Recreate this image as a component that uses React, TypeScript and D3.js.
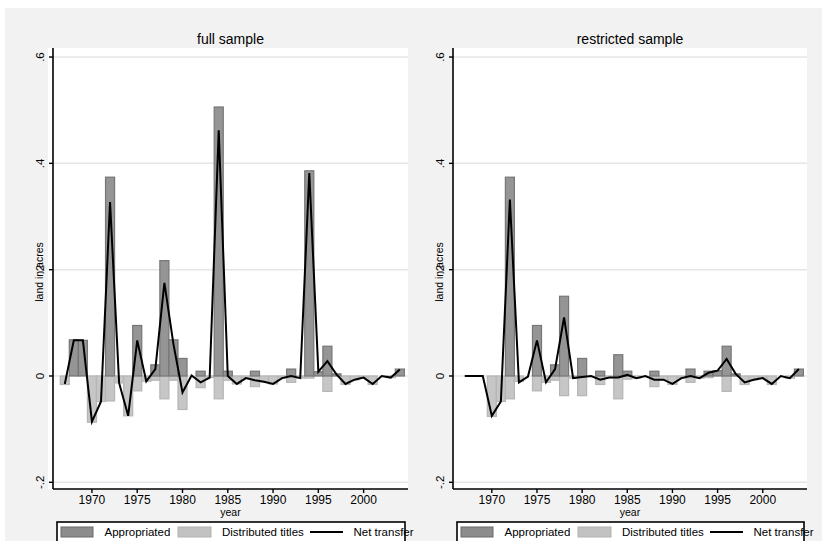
import * as d3 from "d3";

// years on the x axis
const years = [
  1967, 1968, 1969, 1970, 1971, 1972, 1973, 1974, 1975, 1976, 1977, 1978, 1979,
  1980, 1981, 1982, 1983, 1984, 1985, 1986, 1987, 1988, 1989, 1990, 1991, 1992,
  1993, 1994, 1995, 1996, 1997, 1998, 1999, 2000, 2001, 2002, 2003, 2004,
];

// full sample
const fullAppropriated = [
  0, 0.068, 0.067, 0, 0, 0.374, 0, 0, 0.095, 0, 0.021, 0.217, 0.068, 0.033, 0,
  0.009, 0, 0.506, 0.009, 0, 0, 0.009, 0, 0, 0, 0.013, 0, 0.386, 0.008, 0.056,
  0.004, 0, 0, 0, 0, 0, 0, 0.013,
];
const fullDistributed = [
  -0.016, 0, 0, -0.087, -0.048, -0.047, -0.013, -0.075, -0.028, -0.01, -0.008,
  -0.043, -0.008, -0.063, 0, -0.022, -0.003, -0.043, -0.008, -0.015, -0.004,
  -0.02, -0.011, -0.015, -0.004, -0.012, -0.004, -0.004, 0, -0.029, 0, -0.016,
  -0.007, -0.003, -0.016, 0, -0.003, 0,
];
const fullNet = [
  -0.015, 0.067, 0.067, -0.086, -0.048, 0.327, -0.013, -0.075, 0.067, -0.01,
  0.013, 0.175, 0.06, -0.031, 0.001, -0.012, -0.003, 0.462, 0.0, -0.015, -0.004,
  -0.008, -0.011, -0.015, -0.004, 0.0, -0.004, 0.382, 0.008, 0.028, 0.003,
  -0.015, -0.007, -0.003, -0.015, 0, -0.003, 0.012,
];

// restricted sample
const resAppropriated = [
  0, 0, 0, 0, 0, 0.374, 0, 0, 0.095, 0, 0.021, 0.15, 0, 0.033, 0, 0.009, 0,
  0.04, 0.009, 0, 0, 0.009, 0, 0, 0, 0.013, 0, 0.009, 0.01, 0.056, 0.004, 0, 0,
  0, 0, 0, 0, 0.013,
];
const resDistributed = [
  0, 0, 0, -0.076, -0.048, -0.043, -0.01, 0, -0.028, -0.012, -0.008, -0.037,
  -0.004, -0.037, 0, -0.016, -0.003, -0.043, -0.006, -0.004, 0, -0.02, -0.007,
  -0.016, -0.004, -0.012, -0.004, -0.003, 0, -0.029, 0, -0.016, -0.007, -0.004,
  -0.016, 0, -0.004, 0,
];
const resNet = [
  0, 0, 0, -0.075, -0.048, 0.332, -0.012, -0.001, 0.067, -0.012, 0.013, 0.11,
  -0.004, -0.002, 0, -0.007, -0.003, -0.003, 0.002, -0.004, 0, -0.007, -0.007,
  -0.015, -0.004, 0, -0.004, 0.006, 0.01, 0.032, 0.004, -0.012, -0.007, -0.004,
  -0.015, 0, -0.004, 0.013,
];

const xTicks = [1970, 1975, 1980, 1985, 1990, 1995, 2000];
const yTicks = [-0.2, 0, 0.2, 0.4, 0.6];
const yTickLabels = ["-.2", "0", ".2", ".4", ".6"];
const panelTitles = ["full sample", "restricted sample"];
const legendLabels = ["Appropriated", "Distributed titles", "Net transfer"];

const FONT = "'Liberation Sans', Arial, Helvetica, sans-serif";
const DARK = "#959595";
const DARK_EDGE = "#767676";
const LIGHT = "#c6c6c6";
const LIGHT_EDGE = "#b6b6b6";

const top = 48;
const bottom = 489;

const Panel = ({ left, right, whiteLeft, title, app, dist, net }) => {
  const x = d3.scaleLinear().domain([1965.7, 2004.9]).range([left, right]);
  const y = d3.scaleLinear().domain([-0.2126, 0.617]).range([bottom, top]);
  const bw = x(1971) - x(1970);
  const line = d3
    .line()
    .x((d, i) => x(years[i]))
    .y((d) => y(d));
  const mid = (left + right) / 2;
  const lx = left + 4; // legend box left

  return (
    <g>
      <rect x={whiteLeft} y={top} width={right - whiteLeft} height={bottom - top} fill="#fff" />
      {yTicks.map((t) => (
        <line key={t} x1={left} x2={right} y1={y(t)} y2={y(t)} stroke="#e6e6e6" strokeWidth={1.5} />
      ))}
      {dist.map((v, i) =>
        v === 0 ? null : (
          <rect
            key={"d" + i}
            x={x(years[i]) - bw / 2}
            y={y(0)}
            width={bw}
            height={y(v) - y(0)}
            fill={LIGHT}
            stroke={LIGHT_EDGE}
            strokeWidth={1.2}
          />
        )
      )}
      {app.map((v, i) =>
        v === 0 ? null : (
          <rect
            key={"a" + i}
            x={x(years[i]) - bw / 2}
            y={y(v)}
            width={bw}
            height={y(0) - y(v)}
            fill={DARK}
            stroke={DARK_EDGE}
            strokeWidth={1.2}
          />
        )
      )}
      <path d={line(net)} fill="none" stroke="#000" strokeWidth={2} strokeLinejoin="miter" />
      {/* axes */}
      <line x1={left} x2={left} y1={top} y2={bottom} stroke="#000" strokeWidth={1.6} />
      <line x1={left} x2={right} y1={bottom} y2={bottom} stroke="#000" strokeWidth={1.6} />
      {yTicks.map((t, i) => (
        <g key={"yt" + t}>
          <line x1={left - 4} x2={left} y1={y(t)} y2={y(t)} stroke="#000" strokeWidth={1.4} />
          <text
            transform={`translate(${left - 9},${y(t)}) rotate(-90)`}
            textAnchor="middle"
            fontSize={11.5}
            fontFamily={FONT}
          >
            {yTickLabels[i]}
          </text>
        </g>
      ))}
      {xTicks.map((t) => (
        <g key={"xt" + t}>
          <line x1={x(t)} x2={x(t)} y1={bottom} y2={bottom + 4} stroke="#000" strokeWidth={1.4} />
          <text x={x(t)} y={503.5} textAnchor="middle" fontSize={12} fontFamily={FONT}>
            {t}
          </text>
        </g>
      ))}
      <text x={mid} y={516} textAnchor="middle" fontSize={10.5} fontFamily={FONT}>
        year
      </text>
      <text
        transform={`translate(${left - 10},272) rotate(-90)`}
        textAnchor="middle"
        fontSize={10.5}
        fontFamily={FONT}
      >
        land in acres
      </text>
      <text x={mid} y={44} textAnchor="middle" fontSize={14} fontFamily={FONT}>
        {title}
      </text>
      {/* legend */}
      <rect x={lx} y={522} width={right - 3 - lx} height={24} fill="#fff" stroke="#000" strokeWidth={1.6} />
      <rect x={lx + 4} y={527} width={32} height={10} fill="#8c8c8c" stroke="#6a6a6a" strokeWidth={1} />
      <text x={lx + 47.5} y={536} fontSize={11.5} fontFamily={FONT}>
        {legendLabels[0]}
      </text>
      <rect x={lx + 121} y={527} width={33} height={10} fill="#c2c2c2" stroke="#b2b2b2" strokeWidth={1} />
      <text x={lx + 165} y={536} fontSize={11.5} fontFamily={FONT}>
        {legendLabels[1]}
      </text>
      <line x1={lx + 253} x2={lx + 286} y1={532} y2={532} stroke="#000" strokeWidth={2} />
      <text x={lx + 296.5} y={536} fontSize={11.5} fontFamily={FONT}>
        {legendLabels[2]}
      </text>
    </g>
  );
};

export default function App() {
  return (
    <svg
      width={822}
      height={541}
      style={{ position: "absolute", left: 0, top: 0, background: "#fff" }}
    >
      <rect x={5} y={8} width={817} height={533} fill="#f2f2f2" />
      <Panel
        left={53}
        right={408}
        whiteLeft={48}
        title={panelTitles[0]}
        app={fullAppropriated}
        dist={fullDistributed}
        net={fullNet}
      />
      <Panel
        left={453}
        right={807}
        whiteLeft={452}
        title={panelTitles[1]}
        app={resAppropriated}
        dist={resDistributed}
        net={resNet}
      />
    </svg>
  );
}
